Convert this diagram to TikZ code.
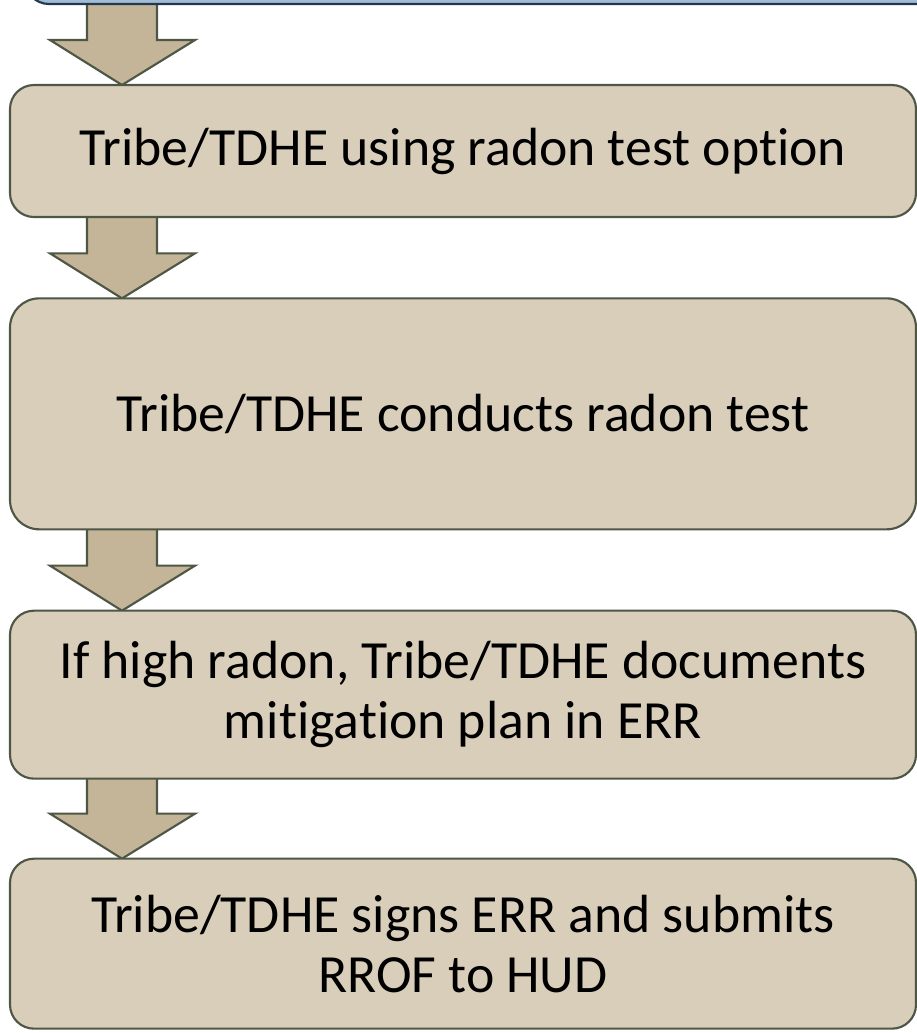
\documentclass[tikz,border=0pt]{standalone}
\usepackage{fontspec}
\setmainfont{Carlito}[Ligatures=NoCommon]
\usepackage{xcolor}
\usetikzlibrary{positioning,calc,backgrounds}

\definecolor{stepfill}{RGB}{217,206,186}
\definecolor{stepedge}{RGB}{78,86,70}
\definecolor{arrowfill}{RGB}{196,181,152}
\definecolor{headfill}{RGB}{160,188,214}
\definecolor{headedge}{RGB}{35,56,76}

\begin{document}
\begin{tikzpicture}[
  x=0.75pt, y=-0.75pt,
  stepbox/.style={draw=stepedge, line width=1.6pt, fill=stepfill, rounded corners=18pt,
    align=center, minimum width=679.5pt, inner sep=0pt, outer sep=0pt,
    font=\fontsize{40.3pt}{45pt}\selectfont},
  blockarrow/.style={draw=stepedge, line width=1.6pt, fill=arrowfill, line join=miter},
  node distance=61pt
]
\clip (0,0) rectangle (917,1033);

% previous step, only its lower edge shows
\node[stepbox, draw=headedge, fill=headfill, anchor=south west, minimum width=750pt,
  minimum height=90pt] (prev) at (25,4) {};

\node[stepbox, minimum height=99pt] (test) at (463,151) {Tribe/TDHE using radon test option};
\node[stepbox, minimum height=173.25pt, rounded corners=22pt, below=of test] (conduct) {Tribe/TDHE conducts radon test};
\node[stepbox, minimum height=126pt, below=of conduct] (mitigate) {If high radon, Tribe/TDHE documents\\mitigation plan in ERR};
\node[stepbox, minimum height=127.5pt, below=60pt of mitigate] (sign) {Tribe/TDHE signs ERR and submits\\RROF to HUD};

% block arrows between the steps
\coordinate (sl) at (87,0);
\coordinate (sr) at (157,0);
\coordinate (hl) at (50,0);
\coordinate (hr) at (195,0);
\coordinate (tip) at (122,0);
\begin{scope}[on background layer]
\foreach \a/\b in {prev/test, test/conduct, conduct/mitigate, mitigate/sign}
  \path[blockarrow] ($(sl |- \a.south)+(0,-5)$) -- ($(sl |- \b.north)+(0,-45)$)
    -- ($(hl |- \b.north)+(0,-45)$) -- (tip |- \b.north)
    -- ($(hr |- \b.north)+(0,-45)$) -- ($(sr |- \b.north)+(0,-45)$)
    -- ($(sr |- \a.south)+(0,-5)$);
\end{scope}
\end{tikzpicture}
\end{document}
